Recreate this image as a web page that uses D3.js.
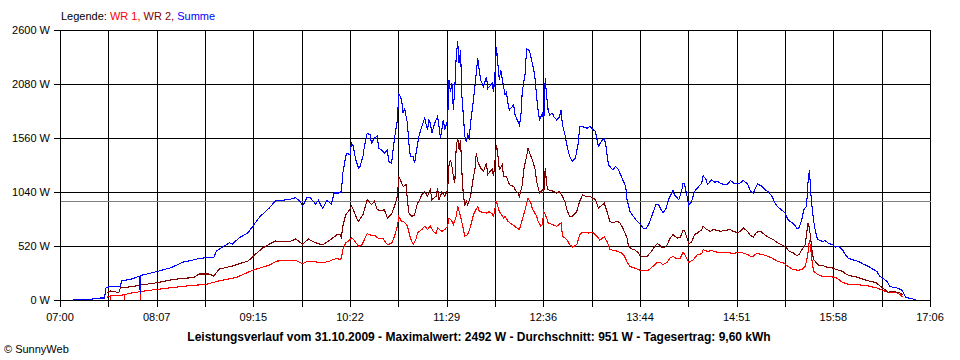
<!DOCTYPE html>
<html>
<head>
<meta charset="utf-8">
<script src="https://cdn.jsdelivr.net/npm/d3@7"></script>
<style>
  body { margin: 0; background: #fff; }
  svg text { font-family: "Liberation Sans", Arial, sans-serif; }
</style>
</head>
<body>
<div id="chart"></div>
<script>
// tick labels along the time axis (every second grid line)
const timeLabels = ["07:00", "08:07", "09:15", "10:22", "11:29", "12:36", "13:44", "14:51", "15:58", "17:06"];
const powerTicks = [0, 520, 1040, 1560, 2080, 2600];
const average = 951;

// WR 1 (red) [time, W]
const wr1 = [
  ["07:33", 29], ["07:35", 36], ["07:35", 0], ["07:35", 38], ["07:45", 50], ["07:45", 0], ["07:45", 52],
  ["07:51", 71], ["07:56", 80], ["07:56", 0], ["07:56", 82], ["08:08", 103], ["08:28", 135], ["08:42", 151],
  ["08:51", 185], ["09:03", 218], ["09:14", 286], ["09:26", 337], ["09:31", 375], ["09:44", 382],
  ["09:49", 350], ["09:53", 375], ["10:03", 359], ["10:08", 374], ["10:10", 390], ["10:13", 400],
  ["10:15", 390], ["10:16", 405], ["10:17", 486], ["10:19", 550], ["10:21", 566], ["10:23", 598],
  ["10:24", 590], ["10:28", 518], ["10:30", 525], ["10:32", 582], ["10:34", 640], ["10:37", 621],
  ["10:39", 625], ["10:41", 598], ["10:45", 590], ["10:48", 534], ["10:51", 545], ["10:53", 614],
  ["10:55", 710], ["10:56", 800], ["10:58", 758], ["11:00", 750], ["11:02", 710], ["11:04", 598],
  ["11:06", 534], ["11:08", 590], ["11:09", 646], ["11:12", 678], ["11:14", 710], ["11:16", 680],
  ["11:18", 710], ["11:20", 662], ["11:22", 640], ["11:23", 694], ["11:26", 662], ["11:28", 678],
  ["11:30", 710], ["11:31", 790], ["11:33", 760], ["11:34", 726], ["11:36", 806], ["11:37", 902],
  ["11:38", 855], ["11:39", 806], ["11:41", 678], ["11:42", 614], ["11:44", 630], ["11:46", 710],
  ["11:48", 822], ["11:51", 902], ["11:52", 854], ["11:55", 840], ["11:57", 838], ["11:59", 850],
  ["12:01", 830], ["12:02", 806], ["12:04", 950], ["12:05", 900], ["12:06", 854], ["12:09", 790],
  ["12:10", 806], ["12:12", 758], ["12:15", 726], ["12:17", 710], ["12:18", 695], ["12:20", 678],
  ["12:22", 774], ["12:24", 870], ["12:26", 982], ["12:28", 934], ["12:29", 880], ["12:32", 806],
  ["12:33", 758], ["12:35", 710], ["12:36", 726], ["12:37", 854], ["12:39", 790], ["12:40", 742],
  ["12:43", 726], ["12:46", 710], ["12:49", 742], ["12:50", 614], ["12:53", 582], ["12:55", 534],
  ["12:57", 509], ["13:00", 534], ["13:02", 630], ["13:04", 653], ["13:08", 645], ["13:11", 653],
  ["13:14", 614], ["13:16", 576], ["13:19", 608], ["13:21", 566], ["13:23", 486], ["13:25", 480],
  ["13:28", 470], ["13:31", 454], ["13:33", 429], ["13:35", 365], ["13:37", 320], ["13:39", 315],
  ["13:42", 298], ["13:45", 282], ["13:49", 282], ["13:51", 298], ["13:53", 324], ["13:56", 363],
  ["13:58", 363], ["14:00", 340], ["14:03", 363], ["14:05", 404], ["14:07", 420], ["14:10", 395],
  ["14:12", 400], ["14:14", 459], ["14:15", 440], ["14:17", 388], ["14:18", 363], ["14:21", 385],
  ["14:24", 437], ["14:27", 446], ["14:28", 485], ["14:31", 469], ["14:34", 475], ["14:38", 459],
  ["14:41", 455], ["14:45", 459], ["14:49", 446], ["14:52", 459], ["14:56", 452], ["14:59", 437],
  ["15:02", 414], ["15:05", 446], ["15:09", 440], ["15:12", 427], ["15:16", 404], ["15:20", 372],
  ["15:24", 356], ["15:27", 324], ["15:30", 298], ["15:34", 285], ["15:37", 296], ["15:39", 324],
  ["15:40", 372], ["15:41", 453], ["15:42", 581], ["15:43", 485], ["15:44", 356], ["15:45", 276],
  ["15:48", 244], ["15:51", 228], ["15:56", 228], ["16:01", 212], ["16:05", 170], ["16:10", 148],
  ["16:15", 148], ["16:22", 138], ["16:29", 116], ["16:33", 93], ["16:38", 68], ["16:43", 68],
  ["16:45", 52], ["16:47", 29]
];

// WR 2 (dark red)
const wr2 = [
  ["07:33", 71], ["07:35", 87], ["07:38", 80], ["07:41", 70], ["07:42", 116], ["07:51", 130],
  ["07:56", 144], ["08:08", 167], ["08:17", 193], ["08:26", 209], ["08:33", 215], ["08:37", 250],
  ["08:44", 250], ["08:47", 231], ["08:51", 298], ["09:00", 327], ["09:05", 350], ["09:11", 375],
  ["09:14", 414], ["09:21", 500], ["09:26", 539], ["09:30", 568], ["09:40", 561], ["09:44", 587],
  ["09:49", 539], ["09:53", 587], ["09:58", 552], ["10:03", 530], ["10:10", 597], ["10:13", 630],
  ["10:15", 630], ["10:16", 600], ["10:17", 710], ["10:19", 822], ["10:21", 854], ["10:23", 902],
  ["10:24", 880], ["10:27", 774], ["10:28", 758], ["10:31", 822], ["10:34", 966], ["10:35", 950],
  ["10:37", 918], ["10:39", 950], ["10:41", 870], ["10:44", 860], ["10:46", 870], ["10:48", 790],
  ["10:51", 830], ["10:53", 902], ["10:55", 998], ["10:56", 1190], ["10:58", 1126], ["10:59", 1094],
  ["11:01", 1110], ["11:02", 966], ["11:03", 838], ["11:05", 806], ["11:07", 820], ["11:09", 934],
  ["11:10", 950], ["11:12", 1014], ["11:14", 1046], ["11:16", 1000], ["11:18", 1062], ["11:19", 966],
  ["11:22", 1000], ["11:23", 1078], ["11:24", 966], ["11:26", 1040], ["11:28", 1000], ["11:30", 1062],
  ["11:31", 1302], ["11:32", 1350], ["11:33", 1286], ["11:34", 1190], ["11:35", 1126], ["11:36", 1478],
  ["11:37", 1560], ["11:38", 1446], ["11:39", 1542], ["11:40", 1222], ["11:41", 998], ["11:42", 918],
  ["11:43", 950], ["11:44", 918], ["11:46", 998], ["11:48", 1190], ["11:49", 1254], ["11:50", 1414],
  ["11:51", 1334], ["11:53", 1270], ["11:55", 1238], ["11:57", 1318], ["11:58", 1210], ["12:01", 1260],
  ["12:02", 1190], ["12:04", 1494], ["12:05", 1400], ["12:06", 1254], ["12:08", 1300], ["12:09", 1190],
  ["12:11", 1190], ["12:13", 1110], ["12:16", 1094], ["12:17", 1062], ["12:19", 1030], ["12:20", 998],
  ["12:22", 1110], ["12:23", 1254], ["12:25", 1382], ["12:26", 1462], ["12:27", 1420], ["12:29", 1350],
  ["12:31", 1254], ["12:32", 1142], ["12:34", 1030], ["12:36", 1062], ["12:37", 1030], ["12:38", 1270],
  ["12:39", 1110], ["12:40", 1062], ["12:44", 1046], ["12:46", 1030], ["12:48", 1046], ["12:50", 998],
  ["12:52", 934], ["12:53", 870], ["12:55", 806], ["12:57", 806], ["13:00", 854], ["13:02", 950],
  ["13:04", 1014], ["13:06", 998], ["13:09", 998], ["13:13", 966], ["13:15", 886], ["13:18", 918],
  ["13:19", 934], ["13:21", 854], ["13:23", 758], ["13:25", 742], ["13:28", 758], ["13:30", 742],
  ["13:32", 694], ["13:35", 598], ["13:36", 518], ["13:38", 493], ["13:40", 486], ["13:43", 454],
  ["13:44", 427], ["13:46", 414], ["13:49", 420], ["13:52", 469], ["13:54", 510], ["13:56", 542],
  ["13:57", 535], ["13:59", 510], ["14:01", 505], ["14:03", 533], ["14:05", 597], ["14:07", 629],
  ["14:10", 597], ["14:12", 600], ["14:14", 671], ["14:15", 671], ["14:17", 587], ["14:18", 542],
  ["14:20", 560], ["14:22", 629], ["14:24", 645], ["14:27", 677], ["14:28", 709], ["14:30", 684],
  ["14:33", 661], ["14:35", 677], ["14:38", 671], ["14:40", 661], ["14:43", 671], ["14:47", 677],
  ["14:49", 661], ["14:52", 650], ["14:54", 661], ["14:56", 693], ["14:59", 661], ["15:01", 620],
  ["15:03", 607], ["15:05", 652], ["15:08", 661], ["15:10", 639], ["15:13", 607], ["15:17", 581],
  ["15:20", 549], ["15:24", 523], ["15:26", 501], ["15:28", 469], ["15:31", 453], ["15:33", 427],
  ["15:35", 440], ["15:37", 491], ["15:39", 533], ["15:40", 629], ["15:41", 741], ["15:42", 693],
  ["15:43", 581], ["15:44", 453], ["15:45", 388], ["15:47", 356], ["15:49", 331], ["15:51", 335],
  ["15:54", 318], ["15:58", 308], ["16:01", 292], ["16:05", 276], ["16:08", 244], ["16:12", 228],
  ["16:15", 221], ["16:19", 202], ["16:24", 180], ["16:28", 170], ["16:30", 148], ["16:33", 116],
  ["16:37", 74], ["16:40", 84], ["16:45", 68], ["16:47", 52]
];

// Summe (blue)
const summe = [
  ["07:09", 0], ["07:21", 7], ["07:28", 19], ["07:31", 19], ["07:32", 116], ["07:35", 130],
  ["07:42", 130], ["07:43", 183], ["07:51", 205], ["07:55", 231], ["07:56", 60], ["07:56", 235],
  ["08:08", 276], ["08:17", 310], ["08:26", 366], ["08:31", 380], ["08:37", 400], ["08:44", 410],
  ["08:47", 405], ["08:49", 472], ["08:58", 552], ["09:00", 539], ["09:05", 600], ["09:11", 648],
  ["09:14", 705], ["09:19", 799], ["09:26", 889], ["09:30", 953], ["09:40", 968], ["09:44", 985],
  ["09:47", 953], ["09:49", 905], ["09:52", 985], ["09:54", 990], ["09:58", 924], ["10:00", 960],
  ["10:03", 880], ["10:06", 960], ["10:08", 934], ["10:09", 920], ["10:11", 1030], ["10:14", 1030],
  ["10:16", 1046], ["10:17", 1222], ["10:19", 1382], ["10:20", 1414], ["10:22", 1398], ["10:23", 1510],
  ["10:24", 1495], ["10:26", 1350], ["10:28", 1270], ["10:29", 1285], ["10:31", 1382], ["10:32", 1478],
  ["10:34", 1606], ["10:36", 1590], ["10:37", 1510], ["10:39", 1558], ["10:41", 1580], ["10:42", 1462],
  ["10:44", 1446], ["10:46", 1414], ["10:48", 1446], ["10:49", 1334], ["10:51", 1318], ["10:52", 1446],
  ["10:53", 1558], ["10:55", 1734], ["10:56", 1990], ["10:58", 1926], ["10:59", 1798], ["11:00", 1846],
  ["11:02", 1702], ["11:03", 1510], ["11:04", 1382], ["11:06", 1382], ["11:07", 1318], ["11:08", 1414],
  ["11:10", 1574], ["11:12", 1670], ["11:14", 1750], ["11:16", 1638], ["11:17", 1734], ["11:18", 1702],
  ["11:19", 1606], ["11:21", 1702], ["11:23", 1766], ["11:24", 1670], ["11:25", 1558], ["11:27", 1734],
  ["11:28", 1638], ["11:30", 1734], ["11:31", 2118], ["11:32", 2000], ["11:33", 2086], ["11:34", 1830],
  ["11:35", 2050], ["11:36", 2342], ["11:37", 2492], ["11:38", 2278], ["11:39", 2406], ["11:40", 1958],
  ["11:41", 1766], ["11:42", 1574], ["11:43", 1526], ["11:44", 1590], ["11:45", 1560], ["11:46", 1702],
  ["11:48", 1926], ["11:49", 2054], ["11:51", 2326], ["11:52", 2214], ["11:53", 2118], ["11:55", 2054],
  ["11:57", 2150], ["11:58", 2038], ["12:01", 2086], ["12:02", 2006], ["12:03", 2182], ["12:04", 2438],
  ["12:05", 2278], ["12:06", 2118], ["12:07", 2214], ["12:09", 2054], ["12:10", 1974], ["12:11", 2000],
  ["12:12", 1894], ["12:13", 1830], ["12:16", 1878], ["12:17", 1782], ["12:18", 1750], ["12:20", 1686],
  ["12:21", 1766], ["12:22", 2006], ["12:24", 2182], ["12:25", 2422], ["12:27", 2400], ["12:28", 2342],
  ["12:29", 2278], ["12:30", 2214], ["12:31", 2118], ["12:32", 1958], ["12:33", 1830], ["12:34", 1734],
  ["12:36", 1798], ["12:37", 1734], ["12:38", 2134], ["12:39", 1958], ["12:40", 1830], ["12:41", 1782],
  ["12:43", 1798], ["12:44", 1766], ["12:46", 1734], ["12:48", 1766], ["12:49", 1830], ["12:50", 1686],
  ["12:52", 1574], ["12:53", 1494], ["12:55", 1382], ["12:57", 1334], ["12:59", 1366], ["13:01", 1510],
  ["13:02", 1670], ["13:04", 1670], ["13:07", 1654], ["13:09", 1670], ["13:13", 1622], ["13:15", 1478],
  ["13:17", 1526], ["13:19", 1558], ["13:20", 1510], ["13:22", 1302], ["13:25", 1254], ["13:27", 1286],
  ["13:29", 1254], ["13:31", 1190], ["13:34", 1094], ["13:35", 966], ["13:37", 854], ["13:39", 812],
  ["13:42", 758], ["13:44", 735], ["13:46", 693], ["13:48", 684], ["13:50", 725], ["13:53", 838],
  ["13:55", 918], ["13:57", 918], ["13:59", 863], ["14:00", 838], ["14:02", 876], ["14:04", 973],
  ["14:07", 1056], ["14:08", 1014], ["14:11", 966], ["14:13", 1046], ["14:14", 1127], ["14:15", 1120],
  ["14:17", 982], ["14:18", 912], ["14:20", 950], ["14:22", 1046], ["14:24", 1078], ["14:27", 1127],
  ["14:28", 1197], ["14:30", 1159], ["14:31", 1111], ["14:34", 1159], ["14:36", 1133], ["14:38", 1143],
  ["14:41", 1117], ["14:45", 1115], ["14:47", 1152], ["14:49", 1127], ["14:52", 1117], ["14:54", 1130],
  ["14:56", 1152], ["14:59", 1115], ["15:01", 1046], ["15:03", 1030], ["15:05", 1095], ["15:06", 1117],
  ["15:09", 1095], ["15:11", 1062], ["15:13", 1046], ["15:16", 998], ["15:18", 934], ["15:20", 896],
  ["15:23", 863], ["15:25", 838], ["15:27", 774], ["15:30", 742], ["15:32", 716], ["15:33", 693],
  ["15:34", 684], ["15:35", 700], ["15:37", 790], ["15:38", 870], ["15:40", 902], ["15:41", 1127],
  ["15:42", 1255], ["15:43", 1030], ["15:44", 870], ["15:45", 758], ["15:46", 677], ["15:47", 613],
  ["15:48", 581], ["15:51", 565], ["15:53", 570], ["15:55", 549], ["15:58", 533], ["16:00", 510],
  ["16:02", 520], ["16:05", 485], ["16:07", 437], ["16:09", 404], ["16:12", 388], ["16:16", 372],
  ["16:19", 350], ["16:23", 324], ["16:26", 298], ["16:29", 276], ["16:31", 228], ["16:33", 212],
  ["16:36", 180], ["16:38", 132], ["16:40", 122], ["16:43", 116], ["16:46", 100], ["16:47", 84],
  ["16:49", 29], ["16:51", 19], ["16:54", 10], ["16:56", 0]
];

const series = [
  {name: "WR 1", color: "#ff0000", values: wr1},
  {name: "WR 2", color: "#800000", values: wr2},
  {name: "Summe", color: "#0000ff", values: summe}
];

function toMin(s) {
  let p = s.split(":");
  return +p[0] * 60 + +p[1];
}

function PowerChart() {
  let params = {
    width: 960,
    height: 360,
    margin: {left: 60, right: 30, top: 30, bottom: 60}
  };

  function my(selection) {
    let svg = selection.append("svg")
      .attr("width", params.width)
      .attr("height", params.height);

    let m = params.margin;
    let x0 = toMin(timeLabels[0]);
    let x1 = x0 + 606;

    let scaleX = d3.scaleLinear()
      .domain([x0, x1])
      .range([m.left, params.width - m.right]);
    let scaleY = d3.scaleLinear()
      .domain([0, 2600])
      .range([params.height - m.bottom, m.top]);

    let px = v => Math.round(v) + 0.5;

    // vertical grid, one line every half label step
    let gridTimes = d3.range(19).map(i => x0 + i * 606 / 18);
    let grid = svg.append("g")
      .attr("stroke", "#000")
      .attr("shape-rendering", "crispEdges");

    grid.selectAll(".vgrid")
      .data(gridTimes)
      .enter()
      .append("line")
      .attr("class", "vgrid")
      .attr("x1", d => px(scaleX(d)))
      .attr("x2", d => px(scaleX(d)))
      .attr("y1", px(scaleY(2600)))
      .attr("y2", px(scaleY(0)) + 6);

    grid.selectAll(".hgrid")
      .data(powerTicks)
      .enter()
      .append("line")
      .attr("class", "hgrid")
      .attr("x1", m.left - 6)
      .attr("x2", px(scaleX(x1)))
      .attr("y1", d => px(scaleY(d)))
      .attr("y2", d => px(scaleY(d)));

    // average line
    svg.append("line")
      .attr("x1", px(scaleX(x0)))
      .attr("x2", px(scaleX(x1)))
      .attr("y1", px(scaleY(average)))
      .attr("y2", px(scaleY(average)))
      .attr("stroke", "#808080")
      .attr("shape-rendering", "crispEdges");

    svg.append("g")
      .selectAll("text")
      .data(powerTicks)
      .enter()
      .append("text")
      .attr("x", m.left - 10)
      .attr("y", d => scaleY(d) + 4)
      .attr("text-anchor", "end")
      .style("font-size", "11px")
      .text(d => d + " W");

    svg.append("g")
      .selectAll("text")
      .data(timeLabels)
      .enter()
      .append("text")
      .attr("x", (d, i) => scaleX(gridTimes[i * 2]))
      .attr("y", params.height - m.bottom + 21)
      .attr("text-anchor", "middle")
      .style("font-size", "11px")
      .text(d => d);

    let line = d3.line()
      .x(d => scaleX(toMin(d[0])))
      .y(d => scaleY(d[1]));

    svg.append("g")
      .selectAll("path")
      .data(series)
      .enter()
      .append("path")
      .attr("d", d => line(d.values))
      .attr("fill", "none")
      .attr("stroke", d => d.color)
      .attr("stroke-width", 1.1)
      .attr("shape-rendering", "crispEdges");

    // legend
    let legend = svg.append("text")
      .attr("x", 61)
      .attr("y", 20)
      .style("font-size", "11px");
    legend.append("tspan").text("Legende: ");
    series.forEach((s, i) => {
      legend.append("tspan")
        .attr("fill", s.color)
        .text(s.name + (i < series.length - 1 ? ", " : ""));
    });

    svg.append("text")
      .attr("x", 479)
      .attr("y", 341)
      .attr("text-anchor", "middle")
      .style("font-size", "12px")
      .style("font-weight", "bold")
      .text("Leistungsverlauf vom 31.10.2009 - Maximalwert: 2492 W - Durchschnitt: " + average + " W - Tagesertrag: 9,60 kWh");

    svg.append("text")
      .attr("x", 4)
      .attr("y", 353)
      .style("font-size", "11px")
      .text("\u00a9 SunnyWeb");
  }

  return my;
}

d3.select("#chart").call(PowerChart());
</script>
</body>
</html>
